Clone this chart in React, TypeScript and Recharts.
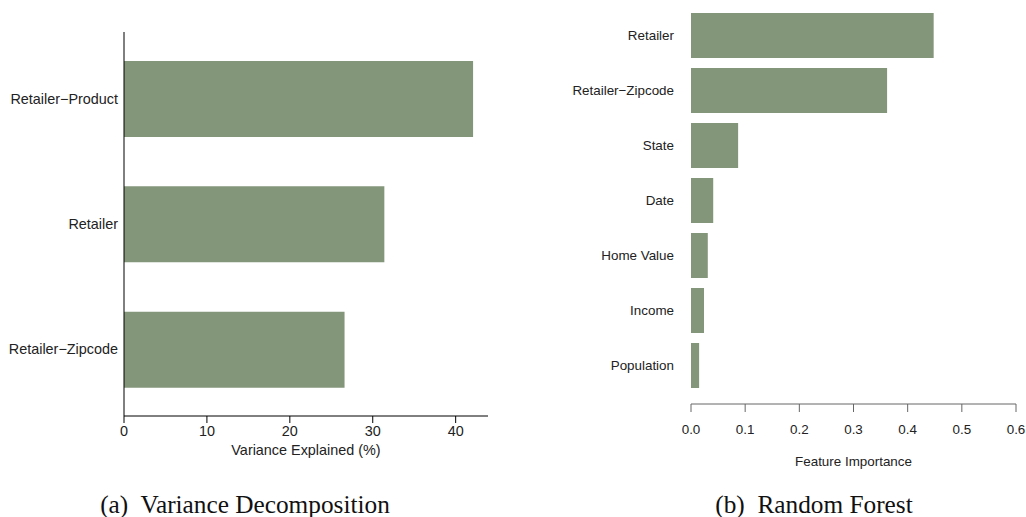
import { BarChart, Bar, XAxis, YAxis } from 'recharts'

// (a) variance decomposition
const decompCategories = ['Retailer−Product', 'Retailer', 'Retailer−Zipcode']
const decompValues = [42.1, 31.4, 26.6]
const decompTicks = [0, 10, 20, 30, 40]

// (b) random forest feature importance
const rfFeatures = ['Retailer', 'Retailer−Zipcode', 'State', 'Date', 'Home Value', 'Income', 'Population']
const rfImportance = [0.448, 0.362, 0.087, 0.041, 0.031, 0.024, 0.015]
const rfTicks = [0, 0.1, 0.2, 0.3, 0.4, 0.5, 0.6]

const BAR_COLOR = '#84967a'
const TEXT = '#222'
const SANS = '"Liberation Sans", Arial, sans-serif'
const SERIF = '"Liberation Serif", "Times New Roman", serif'

export default function App() {
  const decompData = decompCategories.map((name, i) => ({ name, value: decompValues[i] }))
  const rfData = rfFeatures.map((name, i) => ({ name, value: rfImportance[i] }))

  return (
    <div style={{ position: 'absolute', left: 0, top: 0, width: 1026, height: 517, background: '#fff', fontFamily: SANS }}>
      <div style={{ position: 'absolute', left: 0, top: 0 }}>
        <BarChart
          width={500}
          height={470}
          data={decompData}
          layout="vertical"
          margin={{ top: 32, right: 12, bottom: 14, left: 0 }}
        >
          <XAxis
            type="number"
            domain={[0, 43.9]}
            ticks={decompTicks}
            height={40}
            tickSize={7}
            tickMargin={3}
            stroke="#000"
            tick={{ fill: TEXT, fontSize: 14.4 }}
            label={{ value: 'Variance Explained (%)', position: 'insideBottom', offset: 1, fill: TEXT, fontSize: 14.4 }}
          />
          <YAxis
            type="category"
            dataKey="name"
            width={124}
            tickLine={false}
            tickSize={0}
            tickMargin={6}
            stroke="#000"
            padding={{ top: 4, bottom: 4 }}
            tick={{ fill: TEXT, fontSize: 14.4 }}
            interval={0}
          />
          <Bar dataKey="value" fill={BAR_COLOR} barSize={76} isAnimationActive={false} />
        </BarChart>
      </div>

      <div style={{ position: 'absolute', left: 530, top: 0 }}>
        <BarChart
          width={496}
          height={480}
          data={rfData}
          layout="vertical"
          margin={{ top: 8, right: 10, bottom: 14, left: 0 }}
        >
          <XAxis
            type="number"
            domain={[0, 0.6]}
            ticks={rfTicks}
            tickFormatter={(v: number) => v.toFixed(1)}
            height={62}
            tickSize={8}
            tickMargin={12}
            stroke="#666"
            tick={{ fill: TEXT, fontSize: 13.4 }}
            label={{ value: 'Feature Importance', position: 'insideBottom', offset: 0, fill: TEXT, fontSize: 13.4 }}
          />
          <YAxis
            type="category"
            dataKey="name"
            width={161}
            axisLine={false}
            tickLine={false}
            tickSize={0}
            tickMargin={17}
            padding={{ top: 0, bottom: 11 }}
            tick={{ fill: TEXT, fontSize: 13.4 }}
            interval={0}
          />
          <Bar dataKey="value" fill={BAR_COLOR} barSize={45} isAnimationActive={false} />
        </BarChart>
      </div>

      {/* sub-figure captions */}
      <svg width={1026} height={517} style={{ position: 'absolute', left: 0, top: 0, pointerEvents: 'none' }}>
        <text x={245} y={513} textAnchor="middle" fontFamily={SERIF} fontSize={25.3} fill="#111" xmlSpace="preserve">
          (a)  Variance Decomposition
        </text>
        <text x={814} y={513} textAnchor="middle" fontFamily={SERIF} fontSize={25.3} fill="#111" xmlSpace="preserve">
          (b)  Random Forest
        </text>
      </svg>
    </div>
  )
}
